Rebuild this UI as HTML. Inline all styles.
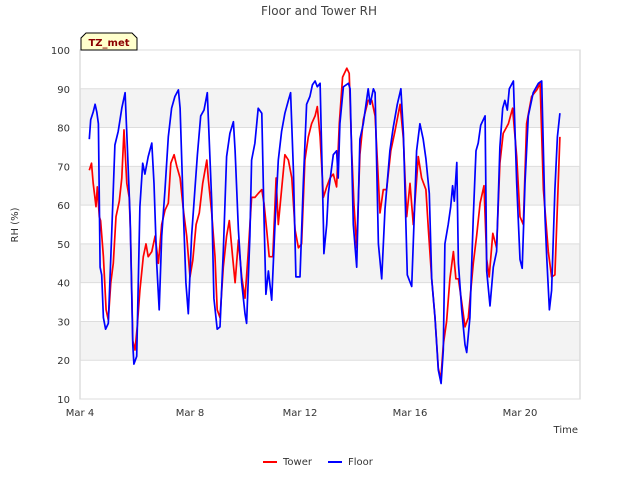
<!DOCTYPE html>
<html><head><meta charset="utf-8"><style>
body{margin:0;background:#fff;font-family:"DejaVu Sans","Liberation Sans",sans-serif}
svg text{font-family:"DejaVu Sans","Liberation Sans",sans-serif}
</style></head><body>
<svg id="chart" width="640" height="480">
<rect x="0" y="0" width="640" height="480" fill="#fff"/>
<g id="bands"></g>
<rect x="80" y="50" width="500" height="349" fill="none" stroke="#ccc"/>
<g id="yaxis"></g><g id="xaxis"></g><g id="series"></g>
<text x="319" y="15" text-anchor="middle" font-size="12" fill="#444">Floor and Tower RH</text>
<text x="18" y="225" text-anchor="middle" font-size="10" fill="#333" transform="rotate(-90 18 225)">RH (%)</text>
<text x="578" y="433" text-anchor="end" font-size="10" fill="#333">Time</text>
<g>
<path d="M81,50 L81,38 L86,33 L132,33 L137,38 L137,50 Z" fill="#ffffcc" stroke="#000"/>
<text x="109" y="46" text-anchor="middle" font-size="10" font-weight="bold" fill="#8b0000">TZ_met</text>
</g>
<g>
<g><line x1="263" y1="462" x2="277" y2="462" stroke="#f00" stroke-width="2"/><text x="283" y="465" font-size="10" fill="#333">Tower</text></g>
<g><line x1="328" y1="462" x2="342" y2="462" stroke="#00f" stroke-width="2"/><text x="348" y="465" font-size="10" fill="#333">Floor</text></g>
</g>
</svg>
<script>
const yTicks=[10,20,30,40,50,60,70,80,90,100];
const xTickDays=[0,4,8,12,16];
const xTickLabels=["Mar 4","Mar 8","Mar 12","Mar 16","Mar 20"];
const floorDays=[0.34,0.39,0.48,0.55,0.61,0.67,0.73,0.79,0.85,0.93,1.03,1.15,1.27,1.39,1.52,1.64,1.70,1.82,1.92,1.96,2.06,2.18,2.28,2.36,2.48,2.61,2.69,2.79,2.88,2.97,3.09,3.21,3.33,3.45,3.58,3.64,3.76,3.85,3.94,4.06,4.18,4.27,4.39,4.51,4.63,4.79,4.87,4.99,5.09,5.21,5.33,5.45,5.58,5.64,5.76,5.88,6.00,6.06,6.18,6.24,6.36,6.48,6.61,6.69,6.76,6.85,6.97,7.09,7.21,7.33,7.45,7.58,7.66,7.76,7.85,8.00,8.12,8.24,8.36,8.45,8.55,8.63,8.73,8.85,8.87,8.97,9.03,9.21,9.33,9.39,9.45,9.58,9.76,9.82,9.94,10.06,10.18,10.30,10.48,10.55,10.67,10.73,10.85,10.97,11.09,11.27,11.39,11.54,11.67,11.76,11.90,12.06,12.24,12.36,12.48,12.58,12.70,12.79,12.91,13.03,13.13,13.21,13.27,13.39,13.48,13.55,13.61,13.70,13.76,13.88,14.00,14.06,14.18,14.30,14.40,14.48,14.57,14.73,14.79,14.91,15.03,15.15,15.27,15.37,15.45,15.54,15.61,15.76,15.88,16.00,16.08,16.18,16.30,16.48,16.67,16.79,16.91,16.97,17.07,17.15,17.27,17.36,17.45];
const floorRH=[77,82,84,86,84,81,44,42,31,28,29.5,52,75.5,79,85,89,78.5,57,24,19,21,59.6,70.8,68,72.5,76,65.6,45,33,52,64,77.6,85,88,89.7,85,58,40,32,52,64,73,83,84.5,89,61,36,28,28.6,48,72.5,78.5,81.5,74,53.6,40,32,29.5,52,71.6,76,85,83.7,57,37,43,35.5,55,71.6,79,83.7,87,89,69,41.5,41.5,65.6,86,88,91,92,90.5,91.4,55,47.5,55,63,73,74,67,81,90.5,91.4,90,55,44,77,81,90,86,90,89,50,41,59,74,80,86,90,78.5,42,39,74,81,77,72,63,41,31,17.5,14,22.6,50,55,59.6,65,61,71,45,33,24,22,31,57,74,76,80.6,83,43,34,44,48,75,85,87,84.5,90,92,65.6,46,43.7,65.6,83,89,91.4,92,57,46.7,33,38,64,77.6,83.7];
const towerDays=[0.34,0.42,0.48,0.58,0.63,0.70,0.75,0.85,0.95,1.03,1.12,1.21,1.31,1.43,1.52,1.60,1.70,1.79,1.84,1.92,2.00,2.08,2.18,2.30,2.40,2.48,2.61,2.73,2.85,2.97,3.09,3.21,3.30,3.42,3.52,3.64,3.76,3.88,4.00,4.10,4.22,4.34,4.46,4.61,4.67,4.79,4.91,4.99,5.09,5.21,5.33,5.43,5.55,5.64,5.76,5.88,6.00,6.12,6.24,6.36,6.48,6.61,6.69,6.79,6.88,7.01,7.13,7.21,7.33,7.45,7.58,7.70,7.82,7.94,8.06,8.18,8.30,8.42,8.55,8.63,8.73,8.85,8.97,9.09,9.21,9.33,9.43,9.55,9.70,9.79,9.88,9.96,10.06,10.18,10.30,10.48,10.61,10.73,10.91,11.03,11.15,11.30,11.45,11.64,11.76,11.88,12.00,12.12,12.30,12.42,12.58,12.67,12.79,12.91,13.03,13.12,13.21,13.33,13.45,13.58,13.67,13.76,13.88,14.00,14.12,14.30,14.42,14.55,14.69,14.79,14.88,15.01,15.15,15.27,15.39,15.58,15.73,15.88,16.00,16.12,16.24,16.42,16.61,16.73,16.85,17.03,17.15,17.27,17.45];
const towerRH=[69,70.8,65.6,59.6,64.7,57,56,46.7,33,30.4,40,45,57,61,67,79.4,65.6,62,52,25,22.6,28.6,38,46.7,50,46.7,48,52,45,55,58.7,60.5,70.8,73,70,67,58.7,52,41.5,45.8,55,58,65.6,71.6,66.5,58,46.7,33,31,44,52,56,46.7,40,51,41.5,36,48,62,62,63,64,60.5,53.6,46.7,46.7,67,55,64,73,71.6,67,53.6,49,50,71.6,77.6,81,83,85.4,77.6,62,64.7,67,68,64.7,81,93,95.3,94,74,60.5,49,73,82,87,87,83,58,64,64,74,79,86,77,57,65.6,55,72.5,67,64,53.6,41,31,18,15,24,30,41,48,41,41,35,28.6,31,45,52,60.5,65,46,41.5,52.7,49,70.8,78.5,81,85,72.5,57,55,81,88,89.7,91.4,64,48,41.5,42,77.6];
const NS="http://www.w3.org/2000/svg";
const X0=80,PXD=27.5,Y0=399,PXV=349/90;
function xs(d){return X0+d*PXD;}
function ys(v){return Y0-(v-10)*PXV;}
function mk(tag,attrs,parent){const e=document.createElementNS(NS,tag);for(const k in attrs)e.setAttribute(k,attrs[k]);parent.appendChild(e);return e;}
const bands=document.getElementById('bands');
[20,40,60,80].forEach(b=>{const r=mk('rect',{x:80,y:ys(b+10),width:500,height:ys(b)-ys(b+10),fill:'#f3f3f3'},bands);

});
const ya=document.getElementById('yaxis');
yTicks.forEach(t=>{const l=mk('line',{x1:80,x2:580,y1:ys(t),y2:ys(t),stroke:'#ddd'},ya);


const tx=mk('text',{x:70,y:ys(t)+4,'text-anchor':'end','font-size':10,fill:'#333'},ya);tx.textContent=t;

});
const xa=document.getElementById('xaxis');
xTickDays.forEach((d,i)=>{const tx=mk('text',{x:xs(d),y:416,'text-anchor':'middle','font-size':10,fill:'#333'},xa);tx.textContent=xTickLabels[i];

});
const sg=document.getElementById('series');
function line(days,vals,color,name){const p=mk('polyline',{points:days.map((d,i)=>xs(d).toFixed(1)+','+ys(vals[i]).toFixed(1)).join(' '),fill:'none',stroke:color,'stroke-width':1.7,'stroke-linejoin':'round'},sg);

}
line(towerDays,towerRH,'#f00','tower-line');
line(floorDays,floorRH,'#00f','floor-line');
</script>
</body></html>
